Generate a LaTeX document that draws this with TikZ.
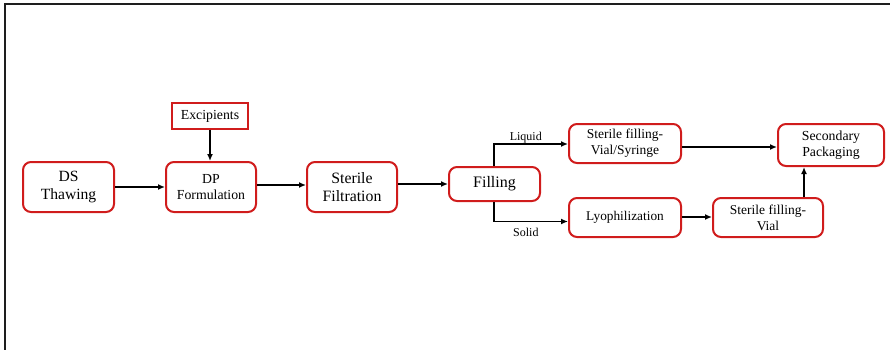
\documentclass[tikz,border=0pt]{standalone}
\usepackage{fontspec}
\setmainfont{Liberation Serif}
\usetikzlibrary{arrows.meta}
\definecolor{boxred}{RGB}{208,28,28}
\definecolor{frame}{RGB}{30,30,30}
\tikzset{
  stepbox/.style={draw=boxred, line width=2pt, rounded corners=8pt, fill=white,
    inner sep=0pt, align=center, text=black},
  plainbox/.style={draw=boxred, line width=2pt, fill=white, inner sep=0pt, align=center, text=black},
  conn/.style={line width=1.6pt, -{Latex[length=7pt,width=6pt]}},
  lbl/.style={font=\fontsize{12}{14}\selectfont, inner sep=0pt, anchor=base}
}
\begin{document}
\begin{tikzpicture}[x=1pt,y=-1pt]
\useasboundingbox (0,0) rectangle (890,350);
\draw[line width=2pt, frame] (5,351) -- (5,4.5) -- (891,4.5);

\node[stepbox, minimum width=91pt, minimum height=50pt, font=\fontsize{15.6}{18.7}\selectfont] (ds) at (68.5,187) {DS\\Thawing};
\node[plainbox, minimum width=76pt, minimum height=25pt, font=\fontsize{13.8}{15}\selectfont] (ex) at (210,116) {Excipients};
\node[stepbox, minimum width=90pt, minimum height=50pt, font=\fontsize{13.8}{16.7}\selectfont] (dp) at (211,187) {DP\\Formulation};
\node[stepbox, minimum width=90pt, minimum height=50pt, font=\fontsize{15.8}{18.7}\selectfont] (sf) at (352,187) {Sterile\\Filtration};
\node[stepbox, minimum width=91pt, minimum height=34pt, font=\fontsize{16}{19}\selectfont] (fi) at (494.5,184) {Filling};
\node[stepbox, minimum width=112pt, minimum height=39pt, font=\fontsize{13.5}{16}\selectfont] (vs) at (625,143.5) {Sterile filling-\\Vial/Syringe};
\node[stepbox, minimum width=112pt, minimum height=39pt, font=\fontsize{13.3}{16}\selectfont] (ly) at (625,217.5) {Lyophilization};
\node[stepbox, minimum width=110pt, minimum height=39pt, font=\fontsize{13.5}{16}\selectfont] (sv) at (768,217.5) {Sterile filling-\\Vial};
\node[stepbox, minimum width=106pt, minimum height=42pt, font=\fontsize{13.8}{16}\selectfont] (sp) at (831,145) {Secondary\\Packaging};

\draw[conn] (ds.east |- 0,187) -- (dp.west |- 0,187);
\draw[conn] (ex.south) -- (dp.north -| ex.south);
\draw[conn] (dp.east |- 0,185) -- (sf.west |- 0,185);
\draw[conn] (sf.east |- 0,184) -- (fi.west |- 0,184);
\coordinate (lq) at (494,144);
\coordinate (so) at (494,221.5);
\draw[conn] (fi.north -| lq) -- (lq) -- (vs.west |- lq) node[lbl, pos=0.43, yshift=3.5pt] {Liquid};
\draw[conn] (fi.south -| so) -- (so) -- (ly.west |- so) node[lbl, pos=0.43, yshift=-14.5pt] {Solid};
\draw[conn] (vs.east |- 0,147) -- (sp.west |- 0,147);
\draw[conn] (ly.east |- 0,217) -- (sv.west |- 0,217);
\draw[conn] (sv.north -| 804,0) -- (sp.south -| 804,0);
\end{tikzpicture}
\end{document}
